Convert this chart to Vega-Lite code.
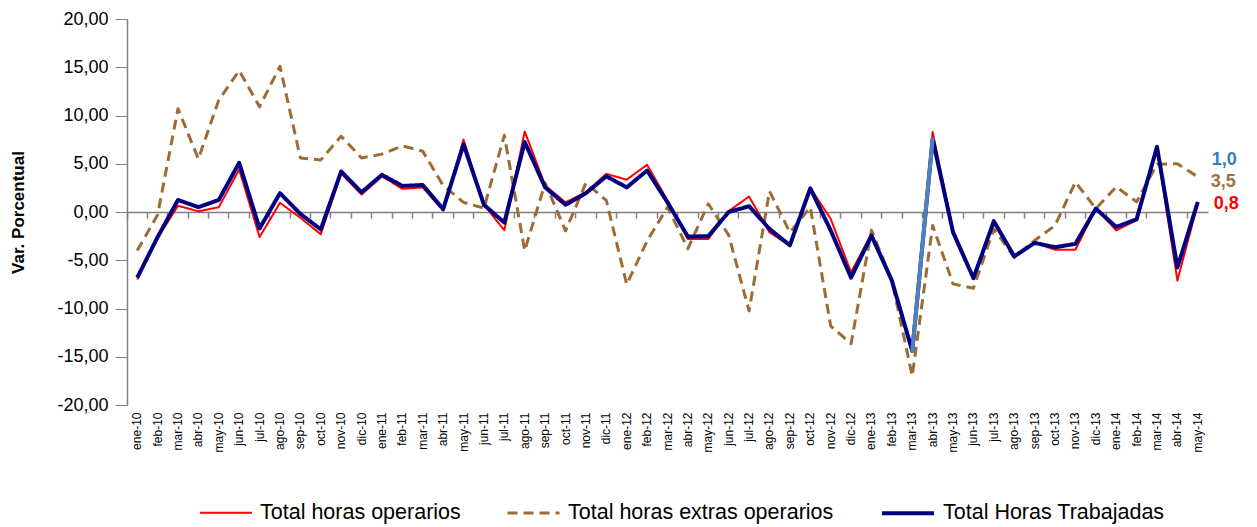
{
  "$schema": "https://vega.github.io/schema/vega-lite/v6.json",
  "width": 1081,
  "height": 386,
  "autosize": {"type": "none"},
  "padding": {"left": 127, "top": 19, "right": 49, "bottom": 122},
  "background": "white",
  "config": {
    "font": "Liberation Sans",
    "view": {"stroke": null},
    "legend": {
      "orient": "none",
      "legendX": 72,
      "legendY": 466,
      "direction": "horizontal",
      "symbolType": "stroke",
      "symbolSize": 2704,
      "labelFontSize": 21.5,
      "labelColor": "#000000",
      "labelOffset": 7,
      "columnPadding": 40,
      "labelLimit": 500
    }
  },
  "datasets": {
    "series": [
      {"mes":"ene-10","serie":"Total horas operarios","valor":-7.0},
      {"mes":"feb-10","serie":"Total horas operarios","valor":-2.7},
      {"mes":"mar-10","serie":"Total horas operarios","valor":0.65},
      {"mes":"abr-10","serie":"Total horas operarios","valor":0.07},
      {"mes":"may-10","serie":"Total horas operarios","valor":0.5},
      {"mes":"jun-10","serie":"Total horas operarios","valor":4.4},
      {"mes":"jul-10","serie":"Total horas operarios","valor":-2.6},
      {"mes":"ago-10","serie":"Total horas operarios","valor":0.95},
      {"mes":"sep-10","serie":"Total horas operarios","valor":-0.6},
      {"mes":"oct-10","serie":"Total horas operarios","valor":-2.3},
      {"mes":"nov-10","serie":"Total horas operarios","valor":4.0},
      {"mes":"dic-10","serie":"Total horas operarios","valor":1.8},
      {"mes":"ene-11","serie":"Total horas operarios","valor":3.7},
      {"mes":"feb-11","serie":"Total horas operarios","valor":2.4},
      {"mes":"mar-11","serie":"Total horas operarios","valor":2.55},
      {"mes":"abr-11","serie":"Total horas operarios","valor":0.15},
      {"mes":"may-11","serie":"Total horas operarios","valor":7.5},
      {"mes":"jun-11","serie":"Total horas operarios","valor":0.75},
      {"mes":"jul-11","serie":"Total horas operarios","valor":-1.9},
      {"mes":"ago-11","serie":"Total horas operarios","valor":8.35},
      {"mes":"sep-11","serie":"Total horas operarios","valor":2.75},
      {"mes":"oct-11","serie":"Total horas operarios","valor":1.0},
      {"mes":"nov-11","serie":"Total horas operarios","valor":2.05},
      {"mes":"dic-11","serie":"Total horas operarios","valor":3.95},
      {"mes":"ene-12","serie":"Total horas operarios","valor":3.35},
      {"mes":"feb-12","serie":"Total horas operarios","valor":4.9},
      {"mes":"mar-12","serie":"Total horas operarios","valor":1.2},
      {"mes":"abr-12","serie":"Total horas operarios","valor":-2.8},
      {"mes":"may-12","serie":"Total horas operarios","valor":-2.8},
      {"mes":"jun-12","serie":"Total horas operarios","valor":0.1},
      {"mes":"jul-12","serie":"Total horas operarios","valor":1.6},
      {"mes":"ago-12","serie":"Total horas operarios","valor":-2.1},
      {"mes":"sep-12","serie":"Total horas operarios","valor":-3.5},
      {"mes":"oct-12","serie":"Total horas operarios","valor":2.5},
      {"mes":"nov-12","serie":"Total horas operarios","valor":-0.7},
      {"mes":"dic-12","serie":"Total horas operarios","valor":-6.25},
      {"mes":"ene-13","serie":"Total horas operarios","valor":-2.25},
      {"mes":"feb-13","serie":"Total horas operarios","valor":-7.0},
      {"mes":"mar-13","serie":"Total horas operarios","valor":-14.3},
      {"mes":"abr-13","serie":"Total horas operarios","valor":8.3},
      {"mes":"may-13","serie":"Total horas operarios","valor":-1.9},
      {"mes":"jun-13","serie":"Total horas operarios","valor":-6.75},
      {"mes":"jul-13","serie":"Total horas operarios","valor":-1.05},
      {"mes":"ago-13","serie":"Total horas operarios","valor":-4.7},
      {"mes":"sep-13","serie":"Total horas operarios","valor":-3.2},
      {"mes":"oct-13","serie":"Total horas operarios","valor":-3.9},
      {"mes":"nov-13","serie":"Total horas operarios","valor":-3.9},
      {"mes":"dic-13","serie":"Total horas operarios","valor":0.35},
      {"mes":"ene-14","serie":"Total horas operarios","valor":-1.9},
      {"mes":"feb-14","serie":"Total horas operarios","valor":-0.85},
      {"mes":"mar-14","serie":"Total horas operarios","valor":6.6},
      {"mes":"abr-14","serie":"Total horas operarios","valor":-7.1},
      {"mes":"may-14","serie":"Total horas operarios","valor":0.85},

      {"mes":"ene-10","serie":"Total horas extras operarios","valor":-4.0},
      {"mes":"feb-10","serie":"Total horas extras operarios","valor":-0.3},
      {"mes":"mar-10","serie":"Total horas extras operarios","valor":10.7},
      {"mes":"abr-10","serie":"Total horas extras operarios","valor":5.5},
      {"mes":"may-10","serie":"Total horas extras operarios","valor":11.6},
      {"mes":"jun-10","serie":"Total horas extras operarios","valor":14.65},
      {"mes":"jul-10","serie":"Total horas extras operarios","valor":10.9},
      {"mes":"ago-10","serie":"Total horas extras operarios","valor":15.1},
      {"mes":"sep-10","serie":"Total horas extras operarios","valor":5.6},
      {"mes":"oct-10","serie":"Total horas extras operarios","valor":5.4},
      {"mes":"nov-10","serie":"Total horas extras operarios","valor":7.85},
      {"mes":"dic-10","serie":"Total horas extras operarios","valor":5.6},
      {"mes":"ene-11","serie":"Total horas extras operarios","valor":6.0},
      {"mes":"feb-11","serie":"Total horas extras operarios","valor":6.85},
      {"mes":"mar-11","serie":"Total horas extras operarios","valor":6.3},
      {"mes":"abr-11","serie":"Total horas extras operarios","valor":2.75},
      {"mes":"may-11","serie":"Total horas extras operarios","valor":1.0},
      {"mes":"jun-11","serie":"Total horas extras operarios","valor":0.4},
      {"mes":"jul-11","serie":"Total horas extras operarios","valor":7.95},
      {"mes":"ago-11","serie":"Total horas extras operarios","valor":-4.0},
      {"mes":"sep-11","serie":"Total horas extras operarios","valor":3.0},
      {"mes":"oct-11","serie":"Total horas extras operarios","valor":-1.95},
      {"mes":"nov-11","serie":"Total horas extras operarios","valor":3.0},
      {"mes":"dic-11","serie":"Total horas extras operarios","valor":1.2},
      {"mes":"ene-12","serie":"Total horas extras operarios","valor":-7.5},
      {"mes":"feb-12","serie":"Total horas extras operarios","valor":-3.0},
      {"mes":"mar-12","serie":"Total horas extras operarios","valor":0.5},
      {"mes":"abr-12","serie":"Total horas extras operarios","valor":-3.8},
      {"mes":"may-12","serie":"Total horas extras operarios","valor":0.85},
      {"mes":"jun-12","serie":"Total horas extras operarios","valor":-2.4},
      {"mes":"jul-12","serie":"Total horas extras operarios","valor":-10.25},
      {"mes":"ago-12","serie":"Total horas extras operarios","valor":2.15},
      {"mes":"sep-12","serie":"Total horas extras operarios","valor":-2.1},
      {"mes":"oct-12","serie":"Total horas extras operarios","valor":0.5},
      {"mes":"nov-12","serie":"Total horas extras operarios","valor":-11.8},
      {"mes":"dic-12","serie":"Total horas extras operarios","valor":-13.65},
      {"mes":"ene-13","serie":"Total horas extras operarios","valor":-1.9},
      {"mes":"feb-13","serie":"Total horas extras operarios","valor":-7.1},
      {"mes":"mar-13","serie":"Total horas extras operarios","valor":-17.0},
      {"mes":"abr-13","serie":"Total horas extras operarios","valor":-1.4},
      {"mes":"may-13","serie":"Total horas extras operarios","valor":-7.45},
      {"mes":"jun-13","serie":"Total horas extras operarios","valor":-7.9},
      {"mes":"jul-13","serie":"Total horas extras operarios","valor":-1.75},
      {"mes":"ago-13","serie":"Total horas extras operarios","valor":-4.7},
      {"mes":"sep-13","serie":"Total horas extras operarios","valor":-2.95},
      {"mes":"oct-13","serie":"Total horas extras operarios","valor":-1.4},
      {"mes":"nov-13","serie":"Total horas extras operarios","valor":3.1},
      {"mes":"dic-13","serie":"Total horas extras operarios","valor":0.35},
      {"mes":"ene-14","serie":"Total horas extras operarios","valor":2.6},
      {"mes":"feb-14","serie":"Total horas extras operarios","valor":1.05},
      {"mes":"mar-14","serie":"Total horas extras operarios","valor":4.95},
      {"mes":"abr-14","serie":"Total horas extras operarios","valor":5.0},
      {"mes":"may-14","serie":"Total horas extras operarios","valor":3.65},

      {"mes":"ene-10","serie":"Total Horas Trabajadas","valor":-6.8},
      {"mes":"feb-10","serie":"Total Horas Trabajadas","valor":-2.6},
      {"mes":"mar-10","serie":"Total Horas Trabajadas","valor":1.25},
      {"mes":"abr-10","serie":"Total Horas Trabajadas","valor":0.5},
      {"mes":"may-10","serie":"Total Horas Trabajadas","valor":1.25},
      {"mes":"jun-10","serie":"Total Horas Trabajadas","valor":5.1},
      {"mes":"jul-10","serie":"Total Horas Trabajadas","valor":-1.7},
      {"mes":"ago-10","serie":"Total Horas Trabajadas","valor":1.95},
      {"mes":"sep-10","serie":"Total Horas Trabajadas","valor":-0.2},
      {"mes":"oct-10","serie":"Total Horas Trabajadas","valor":-1.8},
      {"mes":"nov-10","serie":"Total Horas Trabajadas","valor":4.2},
      {"mes":"dic-10","serie":"Total Horas Trabajadas","valor":2.05},
      {"mes":"ene-11","serie":"Total Horas Trabajadas","valor":3.85},
      {"mes":"feb-11","serie":"Total Horas Trabajadas","valor":2.7},
      {"mes":"mar-11","serie":"Total Horas Trabajadas","valor":2.8},
      {"mes":"abr-11","serie":"Total Horas Trabajadas","valor":0.3},
      {"mes":"may-11","serie":"Total Horas Trabajadas","valor":7.0},
      {"mes":"jun-11","serie":"Total Horas Trabajadas","valor":0.75},
      {"mes":"jul-11","serie":"Total Horas Trabajadas","valor":-1.1},
      {"mes":"ago-11","serie":"Total Horas Trabajadas","valor":7.25},
      {"mes":"sep-11","serie":"Total Horas Trabajadas","valor":2.55},
      {"mes":"oct-11","serie":"Total Horas Trabajadas","valor":0.75},
      {"mes":"nov-11","serie":"Total Horas Trabajadas","valor":1.95},
      {"mes":"dic-11","serie":"Total Horas Trabajadas","valor":3.7},
      {"mes":"ene-12","serie":"Total Horas Trabajadas","valor":2.55},
      {"mes":"feb-12","serie":"Total Horas Trabajadas","valor":4.3},
      {"mes":"mar-12","serie":"Total Horas Trabajadas","valor":1.0},
      {"mes":"abr-12","serie":"Total Horas Trabajadas","valor":-2.55},
      {"mes":"may-12","serie":"Total Horas Trabajadas","valor":-2.5},
      {"mes":"jun-12","serie":"Total Horas Trabajadas","valor":0.0},
      {"mes":"jul-12","serie":"Total Horas Trabajadas","valor":0.6},
      {"mes":"ago-12","serie":"Total Horas Trabajadas","valor":-1.75},
      {"mes":"sep-12","serie":"Total Horas Trabajadas","valor":-3.45},
      {"mes":"oct-12","serie":"Total Horas Trabajadas","valor":2.45},
      {"mes":"nov-12","serie":"Total Horas Trabajadas","valor":-1.9},
      {"mes":"dic-12","serie":"Total Horas Trabajadas","valor":-6.8},
      {"mes":"ene-13","serie":"Total Horas Trabajadas","valor":-2.45},
      {"mes":"feb-13","serie":"Total Horas Trabajadas","valor":-7.1},
      {"mes":"mar-13","serie":"Total Horas Trabajadas","valor":-14.4},
      {"mes":"abr-13","serie":"Total Horas Trabajadas","valor":7.55},
      {"mes":"may-13","serie":"Total Horas Trabajadas","valor":-2.1},
      {"mes":"jun-13","serie":"Total Horas Trabajadas","valor":-6.85},
      {"mes":"jul-13","serie":"Total Horas Trabajadas","valor":-0.95},
      {"mes":"ago-13","serie":"Total Horas Trabajadas","valor":-4.6},
      {"mes":"sep-13","serie":"Total Horas Trabajadas","valor":-3.2},
      {"mes":"oct-13","serie":"Total Horas Trabajadas","valor":-3.65},
      {"mes":"nov-13","serie":"Total Horas Trabajadas","valor":-3.3},
      {"mes":"dic-13","serie":"Total Horas Trabajadas","valor":0.35},
      {"mes":"ene-14","serie":"Total Horas Trabajadas","valor":-1.55},
      {"mes":"feb-14","serie":"Total Horas Trabajadas","valor":-0.75},
      {"mes":"mar-14","serie":"Total Horas Trabajadas","valor":6.75},
      {"mes":"abr-14","serie":"Total Horas Trabajadas","valor":-5.75},
      {"mes":"may-14","serie":"Total Horas Trabajadas","valor":1.05}
    ],
    "tramo": [
      {"mes":"mar-13","valor":-14.4},
      {"mes":"abr-13","valor":7.55}
    ],
    "etiquetas": [
      {"mes":"may-14","serie":"Total Horas Trabajadas","valor":1.0,"texto":"1,0"},
      {"mes":"may-14","serie":"Total horas extras operarios","valor":3.5,"texto":"3,5"},
      {"mes":"may-14","serie":"Total horas operarios","valor":0.8,"texto":"0,8"}
    ]
  },
  "resolve": {"scale": {"x": "shared", "y": "shared"}, "axis": {"x": "independent"}},
  "layer": [
    {
      "data": {"name": "series"},
      "transform": [{"filter": "datum.serie === 'Total horas operarios'"}],
      "mark": {"type": "line", "strokeJoin": "round"},
      "encoding": {
        "x": {
          "field": "mes", "type": "nominal", "bandPosition": 0.5, "sort": null,
          "scale": {"type": "band", "paddingInner": 0, "paddingOuter": 0,
            "domain": ["ene-10","feb-10","mar-10","abr-10","may-10","jun-10","jul-10","ago-10","sep-10","oct-10","nov-10","dic-10","ene-11","feb-11","mar-11","abr-11","may-11","jun-11","jul-11","ago-11","sep-11","oct-11","nov-11","dic-11","ene-12","feb-12","mar-12","abr-12","may-12","jun-12","jul-12","ago-12","sep-12","oct-12","nov-12","dic-12","ene-13","feb-13","mar-13","abr-13","may-13","jun-13","jul-13","ago-13","sep-13","oct-13","nov-13","dic-13","ene-14","feb-14","mar-14","abr-14","may-14"]},
          "axis": {
            "title": null, "orient": "bottom", "domain": false, "ticks": false, "tickSize": 0,
            "labelAngle": 270, "labelAlign": "right", "labelBaseline": "middle",
            "labelPadding": 7, "labelFontSize": 12, "labelColor": "#000000", "grid": false
          }
        },
        "y": {
          "field": "valor", "type": "quantitative",
          "scale": {"domain": [-20, 20], "nice": false, "zero": false},
          "axis": {
            "title": "Var. Porcentual", "titleFontSize": 17, "titleFontWeight": "bold", "titleColor": "#000000",
            "titlePadding": 29,
            "values": [-20, -15, -10, -5, 0, 5, 10, 15, 20],
            "labelExpr": "replace(replace(format(datum.value, '.2f'), '.', ','), '\u2212', '-')",
            "labelFontSize": 18, "labelColor": "#000000", "labelPadding": 7,
            "tickSize": 12, "tickColor": "#808080", "domainColor": "#808080", "domainWidth": 1.5,
            "grid": false
          }
        },
        "color": {
          "field": "serie", "type": "nominal", "title": null,
          "scale": {"domain": ["Total horas operarios", "Total horas extras operarios", "Total Horas Trabajadas"], "range": ["#FF0000", "#9E6B35", "#000080"]}
        },
        "strokeDash": {
          "field": "serie", "type": "nominal", "title": null,
          "scale": {"domain": ["Total horas operarios", "Total horas extras operarios", "Total Horas Trabajadas"], "range": [[1, 0], [10, 6], [1, 0]]}
        },
        "strokeWidth": {
          "field": "serie", "type": "nominal", "title": null,
          "scale": {"domain": ["Total horas operarios", "Total horas extras operarios", "Total Horas Trabajadas"], "range": [2, 4, 4]}
        }
      }
    },
    {
      "data": {"name": "series"},
      "transform": [{"filter": "datum.serie === 'Total horas extras operarios'"}],
      "mark": {"type": "line", "strokeJoin": "round"},
      "encoding": {
        "x": {
          "field": "mes", "type": "nominal", "bandPosition": 0.5, "sort": null,
          "axis": {
            "title": null, "orient": "bottom", "offset": -193, "labels": false,
            "domain": true, "domainColor": "#808080", "domainWidth": 1.5,
            "ticks": true, "tickSize": 6, "tickColor": "#808080", "tickWidth": 1.5, "bandPosition": 0, "grid": false
          }
        },
        "y": {"field": "valor", "type": "quantitative"},
        "color": {"field": "serie", "type": "nominal", "title": null},
        "strokeDash": {"field": "serie", "type": "nominal", "title": null},
        "strokeWidth": {"field": "serie", "type": "nominal", "title": null}
      }
    },
    {
      "data": {"name": "series"},
      "transform": [{"filter": "datum.serie === 'Total Horas Trabajadas'"}],
      "mark": {"type": "line", "strokeJoin": "round"},
      "encoding": {
        "x": {"field": "mes", "type": "nominal", "bandPosition": 0.5, "axis": null, "sort": null},
        "y": {"field": "valor", "type": "quantitative"},
        "color": {"field": "serie", "type": "nominal", "title": null},
        "strokeDash": {"field": "serie", "type": "nominal", "title": null},
        "strokeWidth": {"field": "serie", "type": "nominal", "title": null}
      }
    },
    {
      "data": {"name": "tramo"},
      "mark": {"type": "line", "color": "#4F81BD", "strokeWidth": 4, "strokeCap": "round"},
      "encoding": {
        "x": {"field": "mes", "type": "nominal", "bandPosition": 0.5, "axis": null, "sort": null},
        "y": {"field": "valor", "type": "quantitative"}
      }
    },
    {
      "data": {"name": "etiquetas"},
      "transform": [{"filter": "datum.serie === 'Total Horas Trabajadas'"}],
      "mark": {"type": "text", "align": "left", "baseline": "middle", "dx": 14, "dy": -42, "fontSize": 18, "fontWeight": "bold", "color": "#2F7DC8"},
      "encoding": {
        "x": {"field": "mes", "type": "nominal", "bandPosition": 0.5, "axis": null, "sort": null},
        "y": {"field": "valor", "type": "quantitative"},
        "text": {"field": "texto"}
      }
    },
    {
      "data": {"name": "etiquetas"},
      "transform": [{"filter": "datum.serie === 'Total horas extras operarios'"}],
      "mark": {"type": "text", "align": "left", "baseline": "middle", "dx": 13, "dy": 4, "fontSize": 18, "fontWeight": "bold", "color": "#9C7444"},
      "encoding": {
        "x": {"field": "mes", "type": "nominal", "bandPosition": 0.5, "axis": null, "sort": null},
        "y": {"field": "valor", "type": "quantitative"},
        "text": {"field": "texto"}
      }
    },
    {
      "data": {"name": "etiquetas"},
      "transform": [{"filter": "datum.serie === 'Total horas operarios'"}],
      "mark": {"type": "text", "align": "left", "baseline": "middle", "dx": 16, "dy": 0, "fontSize": 18, "fontWeight": "bold", "color": "#FF0000"},
      "encoding": {
        "x": {"field": "mes", "type": "nominal", "bandPosition": 0.5, "axis": null, "sort": null},
        "y": {"field": "valor", "type": "quantitative"},
        "text": {"field": "texto"}
      }
    }
  ]
}
